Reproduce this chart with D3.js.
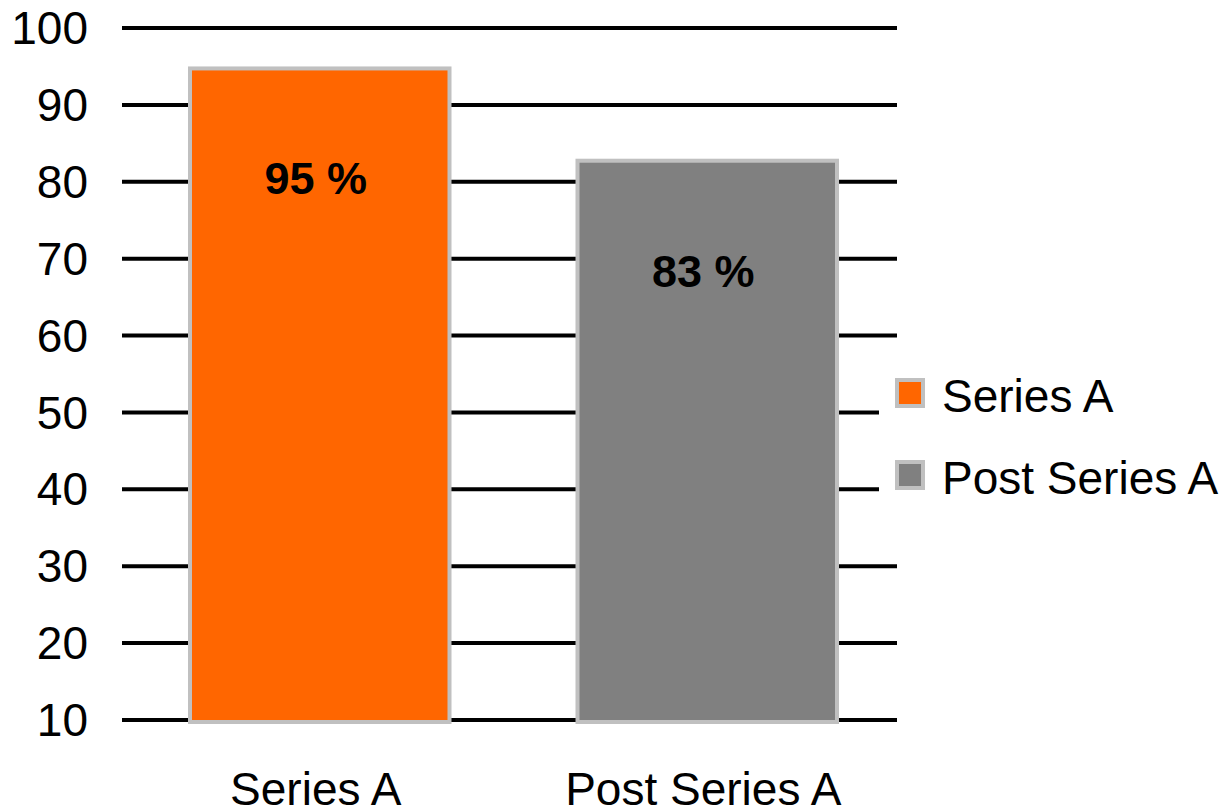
<!DOCTYPE html>
<html>
<head>
<meta charset="utf-8">
<script src="https://cdn.jsdelivr.net/npm/d3@7"></script>
<style>
  body { margin: 0; background: #fff; }
  text { font-family: "Liberation Sans", Arial, sans-serif; }
</style>
</head>
<body>
<div id="chart"></div>
<script>
// chart data
var categories = ["Series A", "Post Series A"];
var values = [95, 83];
var labels = ["95 %", "83 %"];
var colors = ["#FF6600", "#808080"];
var yTicks = [10, 20, 30, 40, 50, 60, 70, 80, 90, 100];

var width = 1227, height = 810;
var gridLeft = 122, gridRight = 897;

var svg = d3.select("#chart")
    .append("svg")
    .attr("width", width)
    .attr("height", height);

var x = d3.scaleBand()
    .domain(categories)
    .range([gridLeft, gridRight])
    .paddingInner(0.32)
    .paddingOuter(0.16);

var y = d3.scaleLinear()
    .domain([10, 100])
    .range([720, 28]);

// gridlines
svg.append("g")
    .selectAll("line")
    .data(yTicks)
    .enter()
    .append("line")
    .attr("x1", gridLeft)
    .attr("x2", gridRight)
    .attr("y1", function (d) { return y(d); })
    .attr("y2", function (d) { return y(d); })
    .attr("stroke", "#000")
    .attr("stroke-width", 4);

// y tick labels
svg.append("g")
    .selectAll("text")
    .data(yTicks)
    .enter()
    .append("text")
    .attr("x", 88)
    .attr("y", function (d) { return y(d); })
    .attr("dy", "0.35em")
    .attr("text-anchor", "end")
    .attr("font-size", 46)
    .text(function (d) { return d; });

// bars
var barShift = 4;
svg.append("g")
    .selectAll("rect")
    .data(values)
    .enter()
    .append("rect")
    .attr("x", function (d, i) { return x(categories[i]) + barShift + 2; })
    .attr("y", function (d) { return y(d) + 2; })
    .attr("width", x.bandwidth() - 4)
    .attr("height", function (d) { return y(10) - y(d); })
    .attr("fill", function (d, i) { return colors[i]; })
    .attr("stroke", "#C0C0C0")
    .attr("stroke-width", 4);

// value labels
svg.append("g")
    .selectAll("text")
    .data(values)
    .enter()
    .append("text")
    .attr("x", function (d, i) { return x(categories[i]) + x.bandwidth() / 2; })
    .attr("y", function (d) { return y(d) + 128; })
    .attr("text-anchor", "middle")
    .attr("font-size", 45)
    .attr("font-weight", "bold")
    .text(function (d, i) { return labels[i]; });

// category labels
svg.append("g")
    .selectAll("text")
    .data(categories)
    .enter()
    .append("text")
    .attr("x", function (d) { return x(d) + x.bandwidth() / 2; })
    .attr("y", 805)
    .attr("text-anchor", "middle")
    .attr("font-size", 46)
    .text(function (d) { return d; });

// legend (white box hides the gridlines behind it)
var legend = svg.append("g").attr("transform", "translate(879, 368)");
legend.append("rect")
    .attr("width", 348)
    .attr("height", 140)
    .attr("fill", "#fff");

var items = legend.selectAll("g.item")
    .data(categories)
    .enter()
    .append("g")
    .attr("class", "item")
    .attr("transform", function (d, i) { return "translate(0," + (i * 82) + ")"; });

items.append("rect")
    .attr("x", 18)
    .attr("y", 12)
    .attr("width", 26)
    .attr("height", 26)
    .attr("fill", function (d, i) { return colors[i]; })
    .attr("stroke", "#C0C0C0")
    .attr("stroke-width", 4);

items.append("text")
    .attr("x", 63)
    .attr("y", 44)
    .attr("font-size", 46)
    .text(function (d) { return d; });
</script>
</body>
</html>
